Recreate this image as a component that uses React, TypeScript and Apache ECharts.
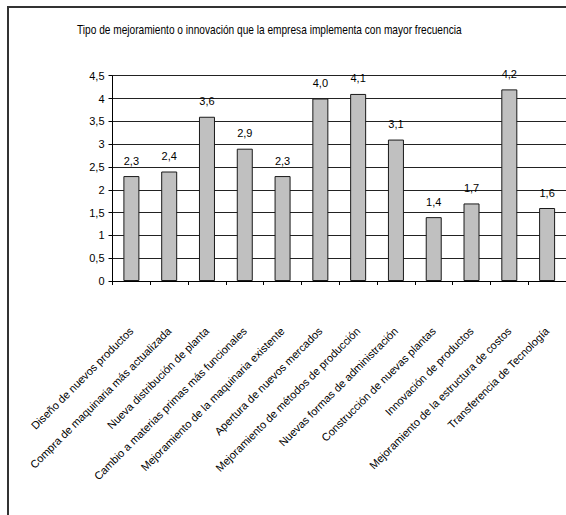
import React, { useEffect, useRef } from "react";
import * as echarts from "echarts";

const chartTitle =
  "Tipo de mejoramiento o innovación que la empresa implementa con mayor frecuencia";

const categories = [
  "Diseño de nuevos productos",
  "Compra de maquinaria más actualizada",
  "Nueva distribución de planta",
  "Cambio a materias primas más funcionales",
  "Mejoramiento de la maquinaria existente",
  "Apertura de nuevos mercados",
  "Mejoramiento de métodos de producción",
  "Nuevas formas de administración",
  "Construcción de nuevas plantas",
  "Innovación de productos",
  "Mejoramiento de la estructura de costos",
  "Transferencia de Tecnología",
];

const values = [2.3, 2.4, 3.6, 2.9, 2.3, 4.0, 4.1, 3.1, 1.4, 1.7, 4.2, 1.6];

const yTickLabels = ["0", "0,5", "1", "1,5", "2", "2,5", "3", "3,5", "4", "4,5"];

const FONT = "'Liberation Sans', Arial, sans-serif";

export default function App() {
  const ref = useRef<HTMLDivElement>(null);

  useEffect(() => {
    if (!ref.current) return;
    const chart = echarts.init(ref.current, undefined, { renderer: "svg" });
    chart.setOption({
      animation: false,
      backgroundColor: "#ffffff",
      graphic: [
        {
          type: "rect",
          shape: { x: 8, y: 7, width: 620, height: 560 },
          style: { fill: "none", stroke: "#333333", lineWidth: 2 },
          silent: true,
          z: 0,
        },
        {
          // condensed title, narrowed horizontally
          type: "text",
          x: 77,
          y: 29,
          scaleX: 0.78,
          style: {
            text: chartTitle,
            fontFamily: FONT,
            fontSize: 13,
            fill: "#000000",
            verticalAlign: "middle",
            align: "left",
          },
          silent: true,
        },
      ],
      grid: {
        left: 112.5,
        top: 75.7,
        width: 455,
        height: 205.3,
        containLabel: false,
      },
      xAxis: {
        type: "category",
        data: categories,
        boundaryGap: true,
        axisLine: { show: true, lineStyle: { color: "#000000", width: 1 } },
        axisTick: {
          show: true,
          alignWithLabel: false,
          length: 4,
          lineStyle: { color: "#000000" },
        },
        axisLabel: {
          interval: 0,
          rotate: 45,
          margin: 48,
          fontFamily: FONT,
          fontSize: 11,
          color: "#000000",
        },
        splitLine: { show: false },
      },
      yAxis: {
        type: "value",
        min: 0,
        max: 4.5,
        interval: 0.5,
        axisLine: { show: true, lineStyle: { color: "#000000", width: 1 } },
        axisTick: { show: true, length: 4, lineStyle: { color: "#000000" } },
        axisLabel: {
          margin: 8,
          fontFamily: FONT,
          fontSize: 11,
          color: "#000000",
          formatter: (v: number) => yTickLabels[Math.round(v / 0.5)] ?? String(v),
        },
        splitLine: { show: true, lineStyle: { color: "#222222", width: 1 } },
      },
      series: [
        {
          type: "bar",
          data: values,
          barWidth: 16,
          itemStyle: { color: "#c0c0c0", borderColor: "#1a1a1a", borderWidth: 1 },
          label: {
            show: true,
            position: "top",
            distance: 10,
            fontFamily: FONT,
            fontSize: 11,
            color: "#000000",
            formatter: (p: any) => Number(p.value).toFixed(1).replace(".", ","),
          },
        },
      ],
    });
    return () => chart.dispose();
  }, []);

  return (
    <div
      ref={ref}
      style={{ position: "absolute", left: 0, top: 0, width: 566, height: 515 }}
    />
  );
}
